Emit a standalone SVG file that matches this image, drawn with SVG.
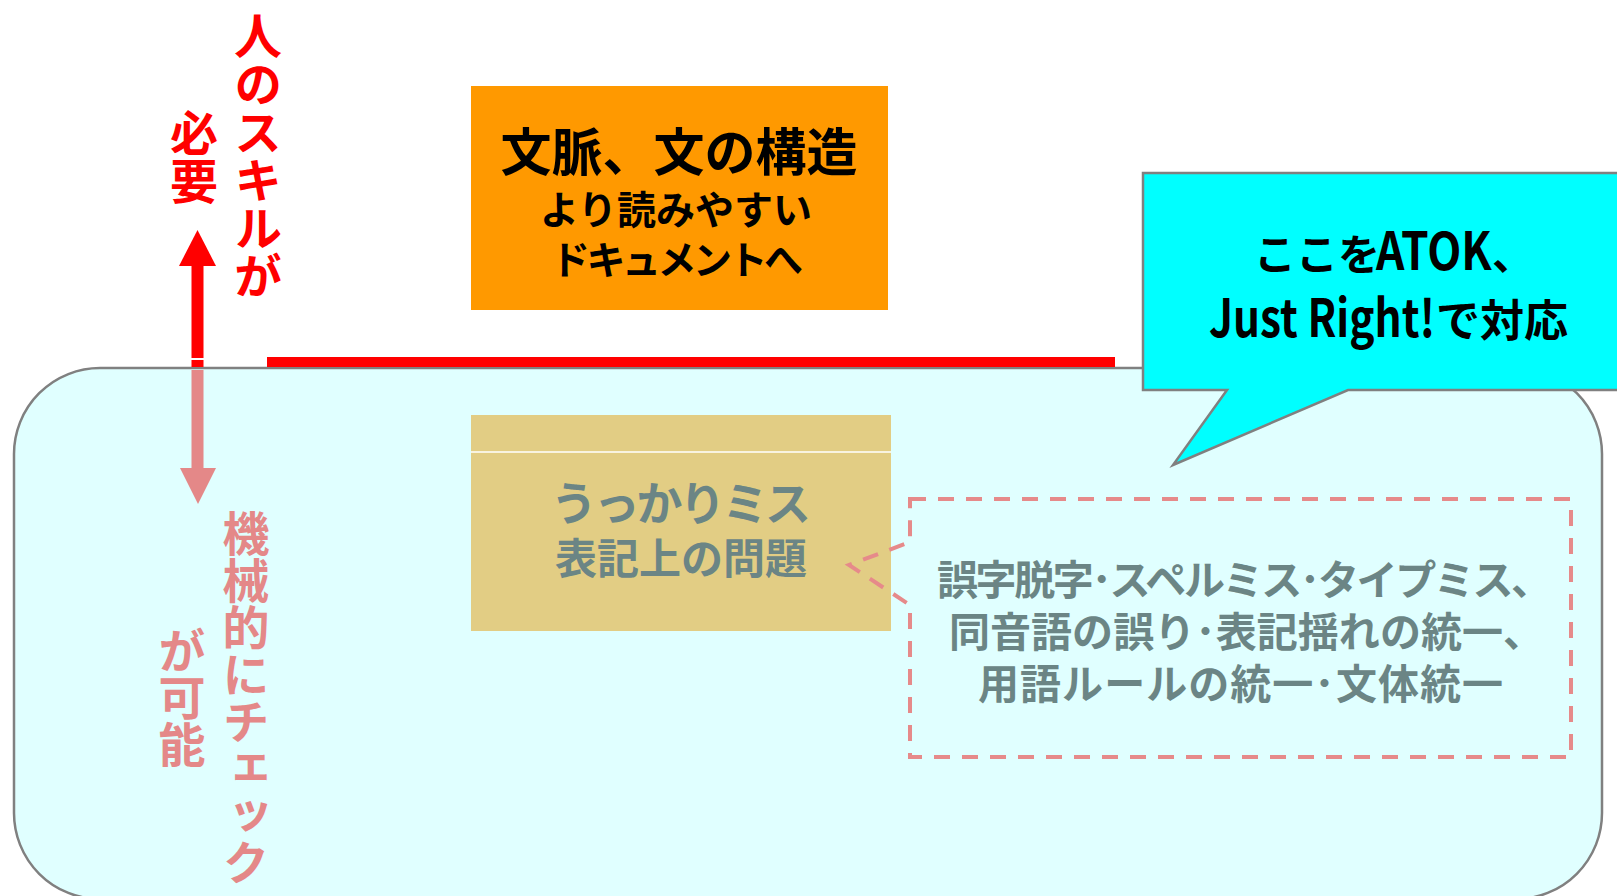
<svg xmlns="http://www.w3.org/2000/svg" width="1617" height="896" viewBox="0 0 1617 896">
<style>
text{font-family:"Noto Sans CJK JP","Noto Sans CJK SC",sans-serif;font-weight:bold}
.vert{writing-mode:vertical-rl;text-anchor:middle}
.red{fill:#FF0000}
.pink{fill:#E48888}
.teal{fill:#6B8585}
.blk{fill:#000000}
.mid{text-anchor:middle}
</style>
<rect width="1617" height="896" fill="#FFFFFF"/>
<g id="area">
<rect x="14" y="368" width="1588" height="531" rx="86" ry="86" fill="#E0FFFF" stroke="#808080" stroke-width="2.5"/>
</g>
<g id="connectors">
<rect x="267" y="357" width="848" height="10" fill="#FF0000"/>
<rect x="191.5" y="264" width="12" height="94" fill="#FF0000"/>
<polygon points="179,266 216,266 197.5,230" fill="#FF0000"/>
<rect x="191.5" y="360" width="12" height="7" fill="#FF0000"/>
<rect x="191.5" y="370" width="12" height="100" fill="#E48888"/>
<polygon points="180,468 216,468 198,504" fill="#E48888"/>
</g>
<g id="label-skill">
<text class="vert red" x="258" y="156" font-size="48">人のスキルが</text>
<text class="vert red" x="194" y="157" font-size="48">必要</text>
</g>
<g id="label-machine">
<text class="vert pink" x="246" y="698" font-size="47">機械的にチェック</text>
<text class="vert pink" x="182" y="697" font-size="47">が可能</text>
</g>
<g id="node-context">
<rect x="471" y="86" width="417" height="224" fill="#FF9900"/>
<text class="blk mid" x="679" y="171" font-size="51">文脈、文の構造</text>
<text class="blk mid" x="676" y="224" font-size="39">より読みやすい</text>
<text class="blk mid" x="677" y="274" font-size="39" textLength="252">ドキュメントへ</text>
</g>
<g id="node-mistake">
<rect x="471" y="415" width="420" height="216" fill="#E2CD84"/>
<line x1="471" y1="452" x2="891" y2="452" stroke="#FFFFFF" stroke-width="1.5"/>
<text class="teal mid" x="681" y="520" font-size="46" textLength="260">うっかりミス</text>
<text class="teal mid" x="681" y="574" font-size="42">表記上の問題</text>
</g>
<g id="node-detail">
<path d="M910,499 H1571 V757 H910 V605 L849,565 L910,542 Z" fill="none" stroke="#E68A8A" stroke-width="4" stroke-dasharray="16 12"/>
<text class="teal" font-size="41"><tspan x="937" y="595" textLength="615">誤字脱字･スペルミス･タイプミス、</tspan><tspan x="949" y="647" textLength="595">同音語の誤り･表記揺れの統一、</tspan><tspan x="978" y="699" textLength="525">用語ルールの統一･文体統一</tspan></text>
</g>
<g id="callout">
<path d="M1143,173 H1622 V390 H1348 L1173,465 L1227,390 H1143 Z" fill="#00FFFF" stroke="#808080" stroke-width="2.5"/>
<text class="blk" x="1254" y="270" font-size="42">ここを</text>
<text class="blk" transform="translate(1376,270) scale(0.87,1)" x="0" y="0" font-size="52" textLength="133" lengthAdjust="spacingAndGlyphs">ATOK</text>
<text class="blk" x="1492" y="270" font-size="42">、</text>
<text class="blk" transform="translate(1209,337) scale(0.88,1)" x="0" y="0" font-size="52" textLength="257" lengthAdjust="spacingAndGlyphs">Just Right!</text>
<text class="blk" x="1436" y="337" font-size="44">で対応</text>
</g>
</svg>
